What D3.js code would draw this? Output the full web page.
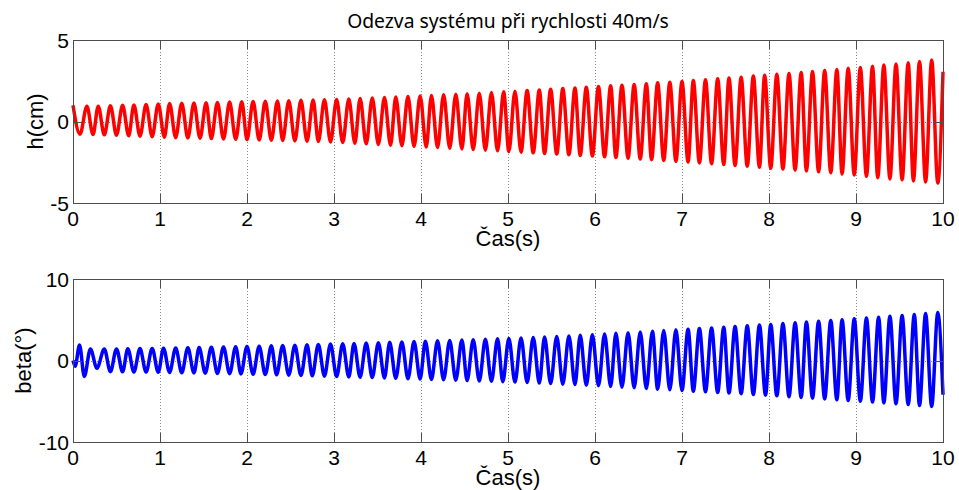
<!DOCTYPE html>
<html>
<head>
<meta charset="utf-8">
<script src="https://cdn.jsdelivr.net/npm/d3@7"></script>
<style>
  html, body { margin: 0; padding: 0; background: #fff; }
  svg { display: block; }
  .tick-label { font-family: "Liberation Sans", Arial, sans-serif; font-size: 21px; fill: #000; }
  .axis-label { font-family: "Liberation Sans", Arial, sans-serif; font-size: 22px; fill: #000; }
  .title { font-family: "Noto Sans", "Open Sans", sans-serif; fill: #000; }
</style>
</head>
<body>
<svg id="fig" width="959" height="490"></svg>
<script>
// Time ticks shared by both panels
const timeTicks = [0, 1, 2, 3, 4, 5, 6, 7, 8, 9, 10];
const hTicks = [-5, 0, 5];
const betaTicks = [-10, 0, 10];

// h(t) [cm]: successive extrema of the response (time in s, value in cm)
const hTime = [0, 0.08, 0.16, 0.23, 0.29, 0.36, 0.43, 0.50, 0.57, 0.64, 0.70, 0.77, 0.84, 0.91, 0.98, 1.05, 1.11, 1.18, 1.25, 1.32, 1.39, 1.46, 1.53, 1.59, 1.66, 1.73, 1.80, 1.87, 1.94, 2.00, 2.07, 2.14, 2.21, 2.28, 2.35, 2.41, 2.48, 2.55, 2.62, 2.69, 2.76, 2.82, 2.89, 2.96, 3.03, 3.10, 3.17, 3.24, 3.30, 3.37, 3.44, 3.51, 3.58, 3.65, 3.71, 3.78, 3.85, 3.92, 3.99, 4.06, 4.12, 4.19, 4.26, 4.33, 4.40, 4.47, 4.53, 4.60, 4.67, 4.74, 4.81, 4.88, 4.95, 5.01, 5.08, 5.15, 5.22, 5.29, 5.36, 5.42, 5.49, 5.56, 5.63, 5.70, 5.77, 5.83, 5.90, 5.97, 6.04, 6.11, 6.18, 6.24, 6.31, 6.38, 6.45, 6.52, 6.59, 6.65, 6.72, 6.79, 6.86, 6.93, 7.00, 7.07, 7.13, 7.20, 7.27, 7.34, 7.41, 7.48, 7.54, 7.61, 7.68, 7.75, 7.82, 7.89, 7.95, 8.02, 8.09, 8.16, 8.23, 8.30, 8.37, 8.43, 8.50, 8.57, 8.64, 8.71, 8.78, 8.84, 8.91, 8.98, 9.05, 9.12, 9.19, 9.25, 9.32, 9.39, 9.46, 9.53, 9.60, 9.66, 9.73, 9.80, 9.87, 9.94, 10.00];
const hValue = [1.00, -0.78,
  0.93, -0.80, 0.94, -0.82, 0.96, -0.84, 0.99, -0.87, 1.01, -0.90, 1.04, -0.93, 1.07, -0.96,
  1.10, -0.99, 1.12, -1.01, 1.13, -1.03, 1.15, -1.05, 1.17, -1.07, 1.19, -1.09, 1.21, -1.11,
  1.23, -1.13, 1.24, -1.15, 1.26, -1.17, 1.28, -1.19, 1.30, -1.21, 1.32, -1.23, 1.33, -1.25,
  1.35, -1.29, 1.38, -1.33, 1.41, -1.37, 1.44, -1.41, 1.47, -1.45, 1.50, -1.49, 1.53, -1.53,
  1.57, -1.57, 1.60, -1.60, 1.64, -1.64, 1.67, -1.68, 1.71, -1.72, 1.74, -1.76, 1.78, -1.80,
  1.82, -1.84, 1.85, -1.88, 1.90, -1.92, 1.94, -1.96, 1.98, -2.00, 2.02, -2.04, 2.06, -2.08,
  2.10, -2.12, 2.14, -2.16, 2.19, -2.21, 2.23, -2.25, 2.27, -2.30, 2.32, -2.34, 2.37, -2.39,
  2.41, -2.44, 2.46, -2.49, 2.51, -2.54, 2.56, -2.59, 2.62, -2.64, 2.67, -2.70, 2.72, -2.75,
  2.79, -2.81, 2.84, -2.87, 2.90, -2.92, 2.95, -2.98, 3.01, -3.03, 3.06, -3.09, 3.13, -3.15,
  3.19, -3.22, 3.26, -3.28, 3.32, -3.36, 3.39, -3.45, 3.46, -3.52, 3.53, -3.58, 3.60, -3.65,
  3.68, -3.71, 3.78, -3.78,
  3.05];

// beta(t) [deg]: successive extrema of the response (time in s, value in degrees)
const betaTime = [0, 0.025, 0.075, 0.13, 0.20, 0.275, 0.36, 0.43, 0.50, 0.57, 0.63, 0.70, 0.77, 0.84, 0.91, 0.98, 1.04, 1.11, 1.18, 1.25, 1.32, 1.39, 1.45, 1.52, 1.59, 1.66, 1.73, 1.80, 1.87, 1.93, 2.00, 2.07, 2.14, 2.21, 2.28, 2.34, 2.41, 2.48, 2.55, 2.62, 2.69, 2.75, 2.82, 2.89, 2.96, 3.03, 3.10, 3.17, 3.23, 3.30, 3.37, 3.44, 3.51, 3.58, 3.64, 3.71, 3.78, 3.85, 3.92, 3.99, 4.05, 4.12, 4.19, 4.26, 4.33, 4.40, 4.47, 4.53, 4.60, 4.67, 4.74, 4.81, 4.88, 4.94, 5.01, 5.08, 5.15, 5.22, 5.29, 5.36, 5.42, 5.49, 5.56, 5.63, 5.70, 5.77, 5.83, 5.90, 5.97, 6.04, 6.11, 6.18, 6.24, 6.31, 6.38, 6.45, 6.52, 6.59, 6.66, 6.72, 6.79, 6.86, 6.93, 7.00, 7.07, 7.13, 7.20, 7.27, 7.34, 7.41, 7.48, 7.54, 7.61, 7.68, 7.75, 7.82, 7.89, 7.96, 8.02, 8.09, 8.16, 8.23, 8.30, 8.37, 8.43, 8.50, 8.57, 8.64, 8.71, 8.78, 8.84, 8.91, 8.98, 9.05, 9.12, 9.19, 9.26, 9.32, 9.39, 9.46, 9.53, 9.60, 9.67, 9.73, 9.80, 9.87, 9.94, 10.00];
const betaValue = [0.0, -0.70, 1.90, -1.95, 1.40, -0.95,
  1.42, -1.38, 1.42, -1.39, 1.44, -1.40, 1.46, -1.42, 1.48, -1.44, 1.51, -1.47, 1.54, -1.50,
  1.56, -1.52, 1.59, -1.55, 1.62, -1.58, 1.66, -1.62, 1.69, -1.65, 1.72, -1.69, 1.76, -1.72,
  1.80, -1.76, 1.83, -1.80, 1.87, -1.84, 1.92, -1.88, 1.96, -1.92, 2.01, -1.97, 2.05, -2.01,
  2.09, -2.05, 2.14, -2.09, 2.18, -2.14, 2.23, -2.18, 2.28, -2.23, 2.32, -2.27, 2.37, -2.32,
  2.41, -2.36, 2.46, -2.41, 2.51, -2.46, 2.56, -2.51, 2.61, -2.55, 2.66, -2.60, 2.70, -2.65,
  2.77, -2.71, 2.83, -2.77, 2.88, -2.83, 2.95, -2.90, 3.02, -2.96, 3.09, -3.03, 3.16, -3.10,
  3.25, -3.19, 3.33, -3.27, 3.42, -3.35, 3.51, -3.44, 3.60, -3.52, 3.68, -3.60, 3.76, -3.68,
  3.84, -3.76, 3.92, -3.84, 4.00, -3.92, 4.09, -4.00, 4.17, -4.08, 4.26, -4.17, 4.35, -4.25,
  4.43, -4.34, 4.53, -4.44, 4.63, -4.53, 4.72, -4.62, 4.82, -4.72, 4.92, -4.81, 5.01, -4.91,
  5.12, -5.00, 5.22, -5.10, 5.32, -5.20, 5.42, -5.30, 5.52, -5.41, 5.64, -5.52, 5.76, -5.64,
  5.88,
  -4.20];

const titleText = "Odezva systému při rychlosti 40m/s";
const xLabelText = "Čas(s)";

const svg = d3.select("#fig");
const left = 73, right = 943;
const tickLen = 9;

const x = d3.scaleLinear().domain([0, 10]).range([left, right]);

const panels = [
  { top: 40, bottom: 203, domain: [-5, 5], ticks: hTicks, t: hTime, v: hValue,
    color: "#ff0000", ylabel: "h(cm)", ylabelX: 35 },
  { top: 279, bottom: 442, domain: [-10, 10], ticks: betaTicks, t: betaTime, v: betaValue,
    color: "#0000ff", ylabel: "beta(°)", ylabelX: 23 }
];

panels.forEach(p => {
  const y = d3.scaleLinear().domain(p.domain).range([p.bottom, p.top]);
  const g = svg.append("g");

  // dotted grid
  g.append("g").selectAll("line").data(timeTicks.slice(1, -1)).join("line")
    .attr("x1", d => Math.round(x(d)) + 0.5).attr("x2", d => Math.round(x(d)) + 0.5)
    .attr("y1", p.top).attr("y2", p.bottom)
    .attr("stroke", "#8a8a8a").attr("stroke-width", 1).attr("stroke-dasharray", "1,2");
  g.append("g").selectAll("line").data(p.ticks.slice(1, -1)).join("line")
    .attr("x1", left).attr("x2", right)
    .attr("y1", d => Math.round(y(d)) + 0.5).attr("y2", d => Math.round(y(d)) + 0.5)
    .attr("stroke", "#8a8a8a").attr("stroke-width", 1).attr("stroke-dasharray", "1,2");

  // response curve through the extrema
  const pts = p.t.map((t, i) => [t, p.v[i]]);
  const line = d3.line().x(d => x(d[0])).y(d => y(d[1])).curve(d3.curveMonotoneX);
  g.append("path").attr("d", line(pts))
    .attr("fill", "none").attr("stroke", p.color).attr("stroke-width", 3.5)
    .attr("stroke-linejoin", "round");

  // box and inward ticks
  g.append("rect").attr("x", left + 0.5).attr("y", p.top + 0.5)
    .attr("width", right - left).attr("height", p.bottom - p.top)
    .attr("fill", "none").attr("stroke", "#4d4d4d").attr("stroke-width", 1);
  const tk = g.append("g").attr("stroke", "#4d4d4d").attr("stroke-width", 1);
  timeTicks.forEach(d => {
    const xx = Math.round(x(d)) + 0.5;
    tk.append("line").attr("x1", xx).attr("x2", xx).attr("y1", p.bottom).attr("y2", p.bottom - tickLen);
    tk.append("line").attr("x1", xx).attr("x2", xx).attr("y1", p.top).attr("y2", p.top + tickLen);
  });
  p.ticks.forEach(d => {
    const yy = Math.round(y(d)) + 0.5;
    tk.append("line").attr("x1", left).attr("x2", left + tickLen).attr("y1", yy).attr("y2", yy);
    tk.append("line").attr("x1", right).attr("x2", right - tickLen).attr("y1", yy).attr("y2", yy);
  });

  // tick labels
  g.append("g").selectAll("text").data(timeTicks).join("text")
    .attr("class", "tick-label").attr("text-anchor", "middle")
    .attr("x", d => x(d)).attr("y", p.bottom + 23).text(d => d);
  g.append("g").selectAll("text").data(p.ticks).join("text")
    .attr("class", "tick-label").attr("text-anchor", "end")
    .attr("x", left - 4).attr("y", d => y(d) + 7.5).text(d => d);

  // axis labels
  g.append("text").attr("class", "axis-label").attr("text-anchor", "middle")
    .attr("x", (left + right) / 2).attr("y", p.bottom + 42.5).text(xLabelText);
  g.append("text").attr("class", "axis-label").attr("text-anchor", "middle")
    .attr("transform", `translate(${p.ylabelX + 8},${(p.top + p.bottom) / 2}) rotate(-90)`)
    .text(p.ylabel);
});

// title, sized to span its measured width
const title = svg.append("text").attr("class", "title").attr("text-anchor", "middle")
  .attr("x", (left + right) / 2).attr("y", 28).style("font-size", "18px").text(titleText);
const w = title.node().getComputedTextLength();
title.style("font-size", (18 * 322 / w).toFixed(2) + "px");
</script>
</body>
</html>
